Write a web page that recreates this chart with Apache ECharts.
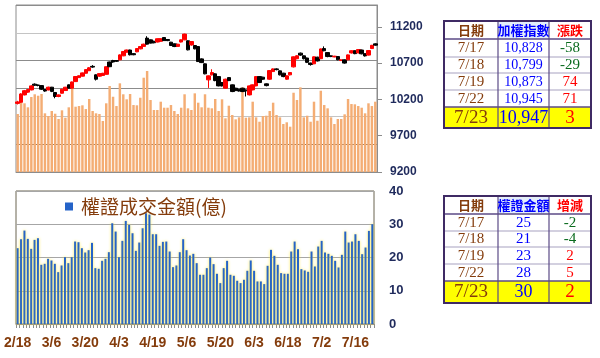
<!DOCTYPE html>
<html><head><meta charset="utf-8">
<script src="https://cdn.jsdelivr.net/npm/echarts@6/dist/echarts.min.js"></script>
<style>html,body{margin:0;padding:0;background:#fff}#c{width:600px;height:358px}</style>
</head><body><div id="c"></div>
<script>
const dates = ['2/18','2/19','2/20','2/21','2/22','2/25','2/26','2/27','3/4','3/5',
'3/6','3/7','3/8','3/11','3/12','3/13','3/14','3/15','3/18','3/19',
'3/20','3/21','3/22','3/25','3/26','3/27','3/28','3/29','4/1','4/2',
'4/3','4/8','4/9','4/10','4/11','4/12','4/15','4/16','4/17','4/18',
'4/19','4/22','4/23','4/24','4/25','4/26','4/29','4/30','5/2','5/3',
'5/6','5/7','5/8','5/9','5/10','5/13','5/14','5/15','5/16','5/17',
'5/20','5/21','5/22','5/23','5/24','5/27','5/28','5/29','5/30','5/31',
'6/3','6/4','6/5','6/6','6/10','6/11','6/12','6/13','6/14','6/17',
'6/18','6/19','6/20','6/21','6/24','6/25','6/26','6/27','6/28','7/1',
'7/2','7/3','7/4','7/5','7/8','7/9','7/10','7/11','7/12','7/15',
'7/16','7/17','7/18','7/19','7/22','7/23'];

const opens = [10145,10160,10262,10300,10331,10410,10398,10390,10335,10330,
10368,10295,10240,10285,10322,10400,10355,10445,10500,10520,
10560,10595,10655,10538,10520,10530,10545,10715,10735,10735,
10745,10800,10850,10880,10830,10855,10896,10930,11044,11020,
11000,10990,11000,11052,11025,10988,10965,10930,10990,11020,
11007,10950,10942,10928,10758,10690,10469,10538,10552,10514,
10432,10354,10500,10400,10354,10340,10354,10330,10262,10331,
10386,10514,10506,10414,10478,10583,10620,10593,10561,10478,
10538,10648,10760,10837,10800,10770,10700,10690,10781,10760,
10900,10845,10800,10785,10790,10735,10745,10745,10840,10870,
10840,10880,10830,10810,10900,10965];

const closes = [10165,10275,10320,10335,10386,10395,10392,10340,10315,10368,
10310,10240,10262,10340,10368,10355,10440,10515,10525,10565,
10610,10635,10645,10478,10555,10560,10650,10650,10715,10725,
10813,10860,10880,10815,10815,10900,10928,10960,10961,10975,
10980,11035,11035,11010,11010,10942,10928,10960,11020,11099,
10882,10997,10896,10721,10707,10552,10524,10570,10459,10386,
10386,10478,10459,10308,10321,10315,10308,10318,10386,10400,
10514,10432,10478,10390,10597,10620,10610,10538,10514,10524,
10570,10786,10800,10810,10760,10710,10680,10786,10730,10895,
10870,10790,10790,10795,10745,10745,10700,10813,10870,10830,
10886,10828,10799,10873,10945,10947];

const lows = [10130,10150,10255,10290,10325,10385,10380,10330,10305,10325,
10300,10215,10230,10280,10318,10350,10350,10440,10495,10515,
10555,10590,10635,10460,10510,10525,10540,10645,10705,10715,
10740,10795,10845,10805,10808,10850,10890,10925,10955,10970,
10972,10985,10995,11005,11002,10935,10920,10925,10985,11015,
10875,10940,10890,10715,10700,10545,10358,10530,10450,10380,
10378,10350,10452,10300,10315,10308,10300,10240,10255,10325,
10380,10425,10470,10380,10470,10578,10600,10530,10505,10470,
10530,10640,10752,10800,10750,10700,10665,10685,10722,10755,
10862,10780,10782,10780,10738,10728,10692,10740,10832,10822,
10835,10820,10790,10805,10895,10940];

const highs = [10180,10285,10330,10345,10395,10420,10405,10395,10340,10375,
10372,10300,10268,10345,10372,10405,10445,10520,10530,10570,
10615,10645,10672,10545,10560,10565,10655,10720,10745,10742,
10820,10865,10885,10885,10838,10905,10935,10968,11070,11025,
11008,11040,11042,11058,11030,10992,10970,10965,11025,11105,
11012,11002,10948,10935,10765,10695,10530,10615,10560,10520,
10440,10485,10505,10405,10360,10345,10360,10338,10392,10405,
10520,10520,10512,10420,10602,10626,10628,10598,10566,10530,
10576,10792,10808,10845,10805,10775,10706,10792,10788,10900,
10930,10850,10805,10800,10795,10750,10750,10818,10876,10876,
10892,10886,10835,10878,10950,10972];

const volume = [1042,1245,1234,1162,1347,1396,1370,1401,1054,1006,
1096,1047,952,1108,975,1162,1503,1173,1185,1198,
1131,1311,1096,1054,1042,916,1234,1545,1352,1185,
1593,1396,1306,1401,1203,1198,1334,1694,1814,1293,
1114,1114,1263,1155,1155,1203,1096,1042,1155,1396,
1144,1114,1413,1245,1162,1396,1155,1144,1311,1096,
1306,964,1191,1024,946,982,1521,975,982,1263,
982,903,1006,1011,1096,1245,1024,982,862,893,
814,1424,1293,1521,982,1011,903,1263,921,1460,
1203,1144,982,862,952,952,1036,1311,1221,1216,
1185,1155,1054,1234,1185,1263];

const warrant = [22.8,25.5,28.1,25.6,22.6,25.3,25.8,17.8,18.1,19.6,
19.1,18.1,15.6,17.6,20.1,18.3,20.1,24.8,24.6,22.8,
21.5,22.2,24.4,16.8,16.6,19,19.6,21.6,30.3,27.8,
20.1,25,31,29.8,27.3,22,24.5,28.8,33.3,32.9,
27,27,23.5,24.7,24.8,21.8,17.1,17.6,21.6,25.5,
22.2,20.6,21.1,18.3,14.8,14.8,16.8,20,18,15.1,
12.3,16.8,19,14.8,14.5,13,12.3,13.3,16,19.1,
16,12.8,12.8,12,17.5,22.3,20.5,17.8,15.3,15.1,
15.1,21.8,24.8,22.5,16.5,16.1,15.7,21.8,17.3,23.3,
25,21.5,21.1,20.5,19,17,20.8,27.8,24.5,24.8,
27,25,21,23,28,30];

const priceTicks = [9200, 9700, 10200, 10700, 11200];
const warrantName = '權證成交金額(億)';

const tableDates = ['7/17','7/18','7/19','7/22','7/23'];
const idxHeader = ['日期','加權指數','漲跌'];
const idxValues = ['10,828','10,799','10,873','10,945','10,947'];
const idxChanges = ['-58','-29','74','71','3'];
const wrtHeader = ['日期','權證金額','增減'];
const wrtValues = ['25','21','23','28','30'];
const wrtChanges = ['-2','-4','2','5','2'];

const BROWN = '#843C0C', BLUE = '#0000FF', RED = '#FF0000', GREEN = '#0A6B1E', NAVY = '#1F2A5C';
const SERIF = '"Liberation Serif", "Noto Sans CJK TC", serif';
const CJK = '"Noto Sans CJK TC", sans-serif';

function buildTable(cols, rows, header, values, changes, valSize) {
  const els = [];
  const x0 = cols[0], x1 = cols[cols.length - 1];
  const last = rows.length - 2;
  els.push({type:'rect', shape:{x:x0, y:rows[0], width:x1-x0, height:rows[rows.length-1]-rows[0]}, style:{fill:'#FFFFFF'}});
  els.push({type:'rect', shape:{x:cols[1], y:rows[0], width:cols[2]-cols[1], height:rows[1]-rows[0]}, style:{fill:'#E4EEFA'}});
  els.push({type:'rect', shape:{x:x0, y:rows[last], width:x1-x0, height:rows[last+1]-rows[last]}, style:{fill:'#FFFF00'}});
  for (let r = 1; r < rows.length - 1; r++) {
    els.push({type:'line', shape:{x1:x0, y1:rows[r], x2:x1, y2:rows[r]}, style:{stroke: r === 1 || r === last ? '#5B4A86' : '#A7A1C0', lineWidth: r === 1 || r === last ? 1.5 : 1}});
  }
  for (let c = 1; c < cols.length - 1; c++) {
    els.push({type:'line', shape:{x1:cols[c], y1:rows[0], x2:cols[c], y2:rows[rows.length-1]}, style:{stroke:'#5B4A86', lineWidth:1.2}});
  }
  els.push({type:'rect', shape:{x:x0, y:rows[0], width:x1-x0, height:rows[rows.length-1]-rows[0]}, style:{fill:'none', stroke:'#3F2A64', lineWidth:2}});
  const cx = c => (cols[c] + cols[c+1]) / 2;
  const cy = r => (rows[r] + rows[r+1]) / 2 + 0.5;
  const headColors = [BROWN, BLUE, RED];
  header.forEach((h, c) => {
    els.push({type:'text', x:cx(c), y:cy(0), style:{text:h, fill:headColors[c], font:'bold 13px ' + CJK, textAlign:'center', textVerticalAlign:'middle'}});
  });
  for (let r = 0; r < tableDates.length; r++) {
    const big = r === tableDates.length - 1;
    const chCol = changes[r].charAt(0) === '-' ? GREEN : RED;
    els.push({type:'text', x:cx(0), y:cy(r+1), style:{text:tableDates[r], fill:BROWN, font:(big ? '19px ' : '15px ') + SERIF, textAlign:'center', textVerticalAlign:'middle'}});
    els.push({type:'text', x:cx(1), y:cy(r+1), style:{text:values[r], fill:BLUE, font:(big ? '18px ' : valSize + 'px ') + SERIF, textAlign:'center', textVerticalAlign:'middle'}});
    els.push({type:'text', x:cx(2), y:cy(r+1), style:{text:changes[r], fill:chCol, font:(big ? '19px ' : '15px ') + SERIF, textAlign:'center', textVerticalAlign:'middle'}});
  }
  return els;
}

const tableCols = [444, 498, 549, 591];
const graphics = [].concat(
  buildTable(tableCols, [21,39,57,73,90,107,128], idxHeader, idxValues, idxChanges, 14),
  buildTable(tableCols, [196,214,231,247,264,281,303], wrtHeader, wrtValues, wrtChanges, 15)
);

const chart = echarts.init(document.getElementById('c'), null, {renderer:'canvas'});
chart.setOption({
  animation: false,
  backgroundColor: '#FFFFFF',
  grid: [
    {left:16, top:5, width:361, height:167, show:true, borderColor:'#8C8C8C', borderWidth:1, containLabel:false, outerBoundsMode:'none'},
    {left:16, top:191, width:358, height:133, show:true, borderColor:'#6B6450', borderWidth:1, containLabel:false, outerBoundsMode:'none'}
  ],
  legend: {
    data: [warrantName], left: 60, top: 192, icon: 'rect', itemWidth: 8, itemHeight: 8,
    itemStyle: {shadowBlur: 0, shadowColor: 'rgba(0,0,0,0)'},
    textStyle: {color: BROWN, fontSize: 19, fontFamily: CJK, padding: [0,0,0,3]}
  },
  xAxis: [
    {type:'category', gridIndex:0, data:dates, boundaryGap:true,
     axisLine:{lineStyle:{color:'#8C8C8C'}}, axisTick:{show:false}, axisLabel:{show:false}, splitLine:{show:false}},
    {type:'category', gridIndex:1, data:dates, boundaryGap:true,
     axisLine:{lineStyle:{color:'#8C8C8C'}},
     axisTick:{show:true, interval:0, length:4, lineStyle:{color:'#8C8C8C'}},
     axisLabel:{interval:9, color:BROWN, fontWeight:'bold', fontSize:14, fontFamily:'"Liberation Sans", sans-serif', margin:12},
     splitLine:{show:false}}
  ],
  yAxis: [
    {type:'value', gridIndex:0, min:0, max:3000, interval:500,
     axisLine:{show:false}, axisTick:{show:false}, axisLabel:{show:false},
     splitLine:{show:true, lineStyle:{color:['#8C8C8C','#9C7A5A','#C4C4C4','#8C8C8C','#8C8C8C','#C4C4C4','#8C8C8C'], width:1}}},
    {type:'value', gridIndex:0, position:'right', min:9200, max:11500, interval:500,
     axisLine:{show:true, lineStyle:{color:'#8C8C8C'}},
     axisTick:{show:true, length:5, lineStyle:{color:'#8C8C8C'}, customValues:priceTicks},
     axisLabel:{color:NAVY, fontWeight:'bold', fontSize:12, margin:13, fontFamily:'"Liberation Sans", sans-serif',
       customValues:priceTicks, formatter: v => String(v)},
     splitLine:{show:false}},
    {type:'value', gridIndex:1, position:'right', min:0, max:40, interval:10,
     axisLine:{show:false}, axisTick:{show:false},
     axisLabel:{color:NAVY, fontWeight:'bold', fontSize:13, margin:15, fontFamily:'"Liberation Sans", sans-serif'},
     splitLine:{show:true, lineStyle:{color:'#A6A6A6'}}}
  ],
  series: [
    {type:'bar', name:'成交量', xAxisIndex:0, yAxisIndex:0, data:volume, barWidth:'72%',
     itemStyle:{color:'#F4AD74'}, silent:true},
    {type:'candlestick', name:'加權指數', xAxisIndex:0, yAxisIndex:1, barWidth:4,
     data: dates.map((d, i) => [opens[i], closes[i], lows[i], highs[i]]),
     itemStyle:{color:'#FF0000', color0:'#000000', borderColor:'#FF0000', borderColor0:'#000000', borderWidth:1}},
    {type:'bar', name:warrantName, xAxisIndex:1, yAxisIndex:2, data:warrant, barWidth:2,
     itemStyle:{color:'#2563C8', shadowColor:'rgba(255,235,60,0.95)', shadowBlur:3}}
  ],
  graphic: graphics
});
</script>
</body></html>
